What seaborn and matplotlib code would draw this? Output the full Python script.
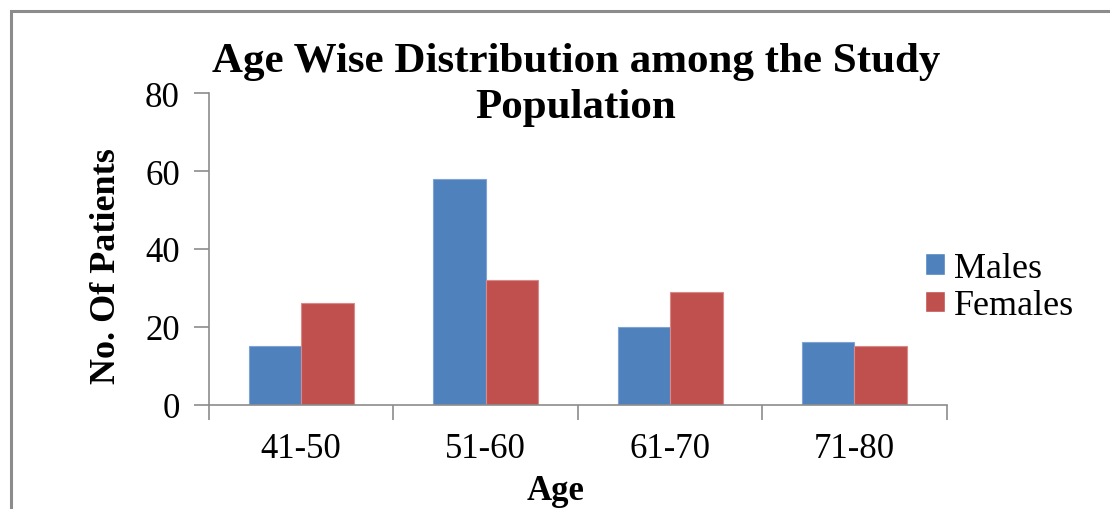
import matplotlib
matplotlib.use("Agg")
import matplotlib.pyplot as plt
from matplotlib.patches import Rectangle
import seaborn as sns
import pandas as pd

# Patient counts by age group and sex
age_groups = ["41-50", "51-60", "61-70", "71-80"]
males = [15, 58, 20, 16]
females = [26, 32, 29, 15]
series_names = ["Males", "Females"]
y_ticks = [0, 20, 40, 60, 80]

df = pd.DataFrame({
    "Age": age_groups * 2,
    "Count": males + females,
    "Sex": [series_names[0]] * len(age_groups) + [series_names[1]] * len(age_groups),
})

sns.set_theme(style="white")
plt.rcParams["font.family"] = ["Liberation Serif", "DejaVu Serif"]
plt.rcParams["text.color"] = "black"
plt.rcParams["axes.labelcolor"] = "black"
plt.rcParams["xtick.labelcolor"] = "black"
plt.rcParams["ytick.labelcolor"] = "black"

fig = plt.figure(figsize=(11.1, 5.1), dpi=100)
ax = fig.add_axes([209 / 1110, 1 - 405.7 / 510, (946.7 - 209) / 1110, (405.7 - 94.3) / 510])

palette = {"Males": "#4F81BD", "Females": "#C0504D"}
sns.barplot(data=df, x="Age", y="Count", hue="Sex", order=age_groups,
            hue_order=series_names, palette=palette, width=0.57,
            saturation=1, ax=ax, legend=True)
for bar, edge in zip(ax.patches, ["#7ea3d4"] * 4 + ["#d98a88"] * 4):
    bar.set_edgecolor(edge)
    bar.set_linewidth(0.8)

axis_grey = "#8c8c8c"
ax.set_xlim(-0.5, len(age_groups) - 0.5)
ax.set_ylim(0, 80)
ax.set_yticks(y_ticks)
ax.set_yticklabels([str(t) for t in y_ticks])
ax.tick_params(axis="y", which="major", direction="out", length=11, width=1.2,
               color=axis_grey, labelsize=25, pad=10, left=True, labelcolor="black")
# category labels centred, tick marks on group boundaries
ax.set_xticks(range(len(age_groups)))
ax.set_xticklabels(age_groups)
ax.tick_params(axis="x", which="major", length=0, labelsize=25, pad=20, labelcolor="black")
ax.set_xticks([i - 0.5 for i in range(len(age_groups) + 1)], minor=True)
ax.tick_params(axis="x", which="minor", direction="out", length=11, width=1.2,
               color=axis_grey, bottom=True)

for side in ["top", "right"]:
    ax.spines[side].set_visible(False)
for side in ["left", "bottom"]:
    ax.spines[side].set_color(axis_grey)
    ax.spines[side].set_linewidth(1.2)

ax.set_ylabel("No. Of Patients", fontsize=26, fontweight="bold", color="black")
ax.yaxis.set_label_coords(-0.117, 0.449)
ax.set_xlabel("Age", fontsize=25, fontweight="bold", color="black")
ax.xaxis.set_label_coords(0.47, -0.222)

fig.text(576 / 1110, 1 - 85 / 510, "Age Wise Distribution among the Study\nPopulation",
         ha="center", va="center", fontsize=31, fontweight="bold", linespacing=1.3,
         color="black")

leg = ax.legend(loc="center left", bbox_to_anchor=(0.9706, 0.378), frameon=False,
                fontsize=26, handlelength=0.55, handleheight=0.55, handletextpad=0.25,
                labelspacing=0.12, borderpad=0, borderaxespad=0)
for txt in leg.get_texts():
    txt.set_color("black")

# outer chart frame
fig.patches.append(Rectangle((10.5 / 1110, -0.1), 1.2, 1 - 12 / 510 + 0.1,
                             transform=fig.transFigure, fill=False,
                             edgecolor=axis_grey, linewidth=2.2, zorder=0))

fig.savefig("out.png", dpi=100)
